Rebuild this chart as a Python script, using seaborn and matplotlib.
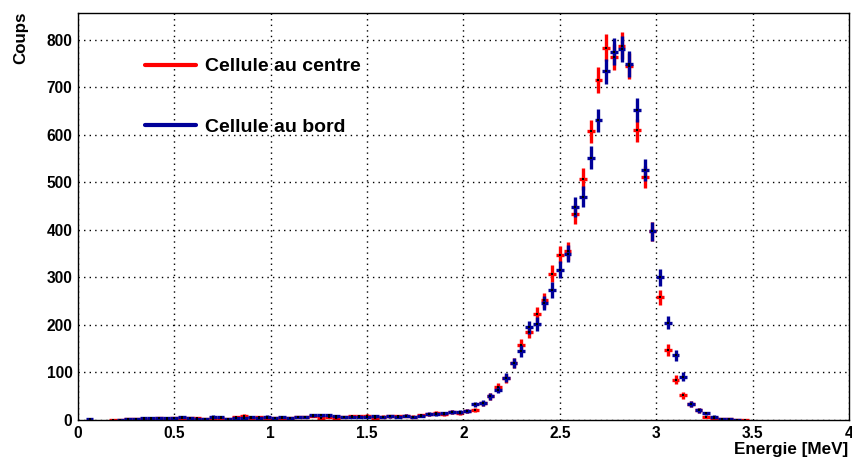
import numpy as np
import seaborn as sns
import matplotlib.pyplot as plt
from matplotlib.lines import Line2D
from matplotlib.ticker import MultipleLocator

# histogram: 100 bins of 0.04 MeV between 0 and 4 MeV
bin_width = 0.04
energy = np.arange(100) * bin_width + bin_width / 2

centre_counts = [
    0, 0, 0, 0, 1, 1, 2, 2, 3, 3, 4, 3, 4, 5, 4, 4, 3, 3, 4, 2,
    6, 9, 5, 6, 4, 5, 4, 5, 6, 6, 9, 4, 7, 5, 6, 8, 8, 9, 4, 7,
    8, 8, 9, 7, 10, 12, 15, 12, 16, 15, 19, 21, 35, 50, 69, 88, 120, 158, 185, 222,
    252, 308, 348, 356, 434, 507, 607, 715, 783, 763, 787, 745, 609, 511, 397, 258, 147, 85, 52, 34,
    20, 6, 5, 3, 2, 1, 0.5, 0, 0, 0, 0, 0, 0, 0, 0, 0, 0, 0, 0, 0,
]
bord_counts = [
    0, 2, 0, 0, 0, 1, 2, 2, 4, 4, 5, 4, 4, 6, 5, 3, 3, 7, 6, 3,
    4, 4, 6, 4, 7, 4, 6, 5, 6, 6, 10, 10, 10, 8, 6, 6, 7, 6, 8, 6,
    8, 7, 9, 6, 9, 13, 13, 14, 17, 17, 18, 33, 36, 50, 64, 89, 120, 145, 195, 202,
    246, 274, 316, 350, 448, 470, 552, 630, 733, 775, 780, 748, 652, 525, 397, 300, 205, 136, 91, 34,
    20, 14, 7, 3, 1.5, 1, 0, 0, 0, 0, 0, 0, 0, 0, 0, 0, 0, 0, 0, 0,
]
series = [("Cellule au centre", centre_counts, "#ff0000"),
          ("Cellule au bord", bord_counts, "#000099")]

sns.set_style("white")
plt.rcParams["font.family"] = ["Liberation Sans", "DejaVu Sans"]
plt.rcParams["font.weight"] = "bold"
plt.rcParams["text.color"] = "black"

fig = plt.figure(figsize=(8.53, 4.59), dpi=100)
ax = fig.add_axes([0.0914, 0.085, 0.9039, 0.8867])

handles = []
for label, counts, color in series:
    counts = np.array(counts, dtype=float)
    mask = counts > 0
    ax.errorbar(energy[mask], counts[mask], yerr=np.sqrt(counts[mask]),
                xerr=bin_width / 2, fmt="none", ecolor=color, elinewidth=2.4,
                capsize=0)
    sns.scatterplot(x=energy[mask], y=counts[mask], ax=ax, color="black",
                    s=1, marker="s", linewidth=0, zorder=4)
    handles.append(Line2D([0], [0], color=color, lw=3, label=label))

ax.set_xlim(0, 4)
ax.set_ylim(0, 856)
ax.xaxis.set_major_locator(MultipleLocator(0.5))
ax.xaxis.set_minor_locator(MultipleLocator(0.1))
ax.yaxis.set_major_locator(MultipleLocator(100))
ax.yaxis.set_minor_locator(MultipleLocator(20))
ax.set_xticks([0, 0.5, 1, 1.5, 2, 2.5, 3, 3.5, 4])
ax.set_xticklabels(["0", "0.5", "1", "1.5", "2", "2.5", "3", "3.5", "4"])

ax.grid(True, which="major", color="black", linestyle=(0, (1, 3)), linewidth=1)
ax.set_axisbelow(True)
for s in ax.spines.values():
    s.set_color("black")
    s.set_linewidth(1)

ax.tick_params(axis="both", which="both", direction="in", labelsize=11.2,
               colors="black", top=False, right=False)
ax.tick_params(axis="y", which="major", length=16, width=1, pad=4)
ax.tick_params(axis="y", which="minor", length=8.5, width=1)
ax.tick_params(axis="x", which="major", length=9, width=1, pad=4)
ax.tick_params(axis="x", which="minor", length=4.5, width=1)
for t in ax.get_xticklabels() + ax.get_yticklabels():
    t.set_fontweight("bold")

ax.set_xlabel("")
ax.set_ylabel("")
fig.text(0.995, 0.004, "Energie [MeV]", ha="right", va="bottom",
         fontsize=12.3, fontweight="bold")
fig.text(0.024, 0.974, "Coups", ha="center", va="top", rotation=90,
         fontsize=12.2, fontweight="bold")

ax.legend(handles=handles, loc="upper left", bbox_to_anchor=(0.087, 0.89),
          frameon=False, borderpad=0, borderaxespad=0, handlelength=2.6,
          handletextpad=0.5, labelspacing=2.2, prop={"weight": "bold", "size": 14})

fig.savefig("out.png", dpi=100)
